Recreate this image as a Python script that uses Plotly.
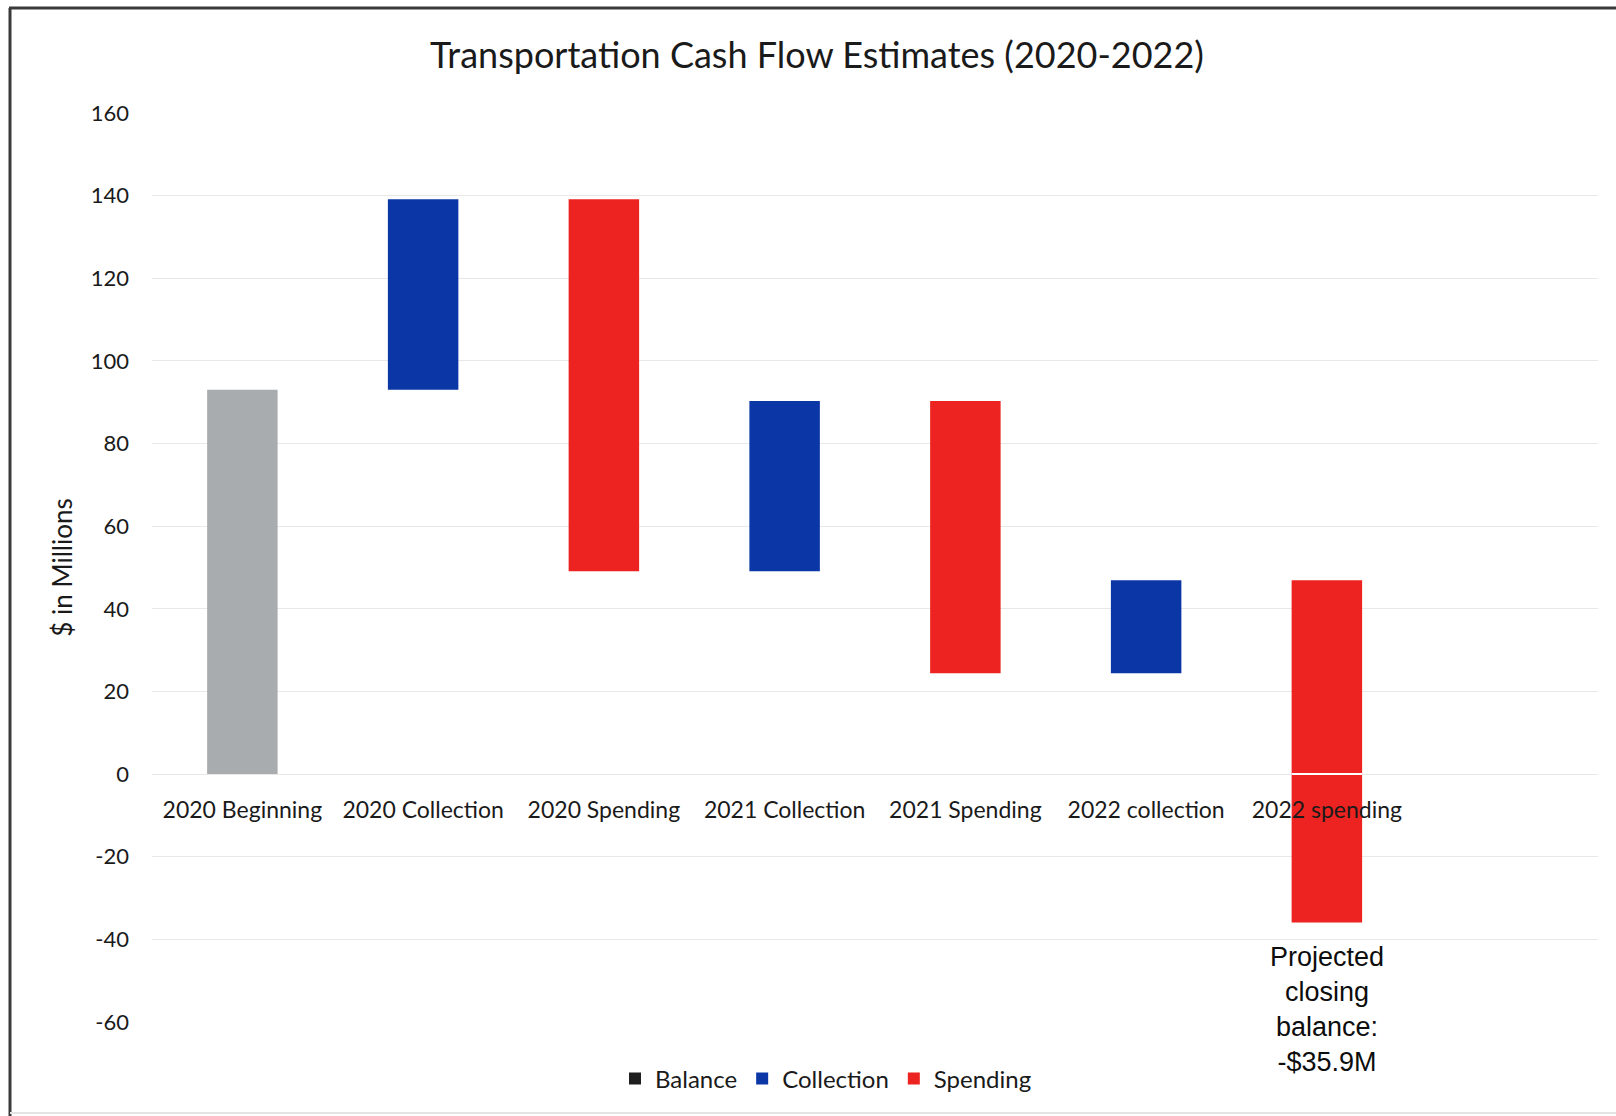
import plotly.graph_objects as go

# ---- data ($ millions) ----
categories = ["2020 Beginning", "2020 Collection", "2020 Spending",
              "2021 Collection", "2021 Spending", "2022 collection", "2022 spending"]
opening_balance = 93.0
collections = [46.1, 41.2, 22.5]
spending = [90.0, 65.9, 82.8]
series_names = ["Balance", "Collection", "Spending"]
y_ticks = [-60, -40, -20, 0, 20, 40, 60, 80, 100, 120, 140, 160]
y_tick_labels = ["-60", "-40", "-20", "0", "20", "40", "60", "80",
                 "100", "120", "140", "160"]

# running balance through the year-by-year flows
flows = [collections[0], -spending[0], collections[1], -spending[1],
         collections[2], -spending[2]]
levels = [opening_balance]
for f in flows:
    levels.append(levels[-1] + f)
closing_balance = levels[-1]

# ---- styling ----
W, H = 1616, 1116
M_L, M_R, M_T, M_B = 152, 18, 113, 94
Y_MIN, Y_MAX = -60, 160
BAR_W = 0.39
GRAY, BLUE, RED = "#a9acae", "#0b36a6", "#ec2320"
FONT = "Lato"
TEXT = "#1a1a1a"

fig = go.Figure()

# opening balance column
fig.add_trace(go.Bar(
    x=[categories[0]], y=[opening_balance], base=[0],
    marker=dict(color=GRAY, line=dict(width=0)), width=BAR_W,
    name=series_names[0], showlegend=False, hoverinfo="skip"))

# floating columns for each flow
col_x, col_y, col_b = [], [], []
sp_x, sp_y, sp_b = [], [], []
for i, f in enumerate(flows):
    cat = categories[i + 1]
    if f >= 0:
        col_x.append(cat); col_y.append(f); col_b.append(levels[i])
    else:
        sp_x.append(cat); sp_y.append(f); sp_b.append(levels[i])

# legend swatches
fig.add_trace(go.Bar(x=[None], y=[None], name=series_names[0],
                     marker=dict(color="#1e1e1e", line=dict(width=0))))
fig.add_trace(go.Bar(x=col_x, y=col_y, base=col_b, width=BAR_W,
                     marker=dict(color=BLUE, line=dict(width=0)),
                     name=series_names[1]))
fig.add_trace(go.Bar(x=sp_x, y=sp_y, base=sp_b, width=BAR_W,
                     marker=dict(color=RED, line=dict(width=0)),
                     name=series_names[2]))

# white seam where the last column crosses zero
last_idx = len(categories) - 1
if levels[-2] > 0 > closing_balance:
    fig.add_shape(type="line", xref="x", yref="y",
                  x0=last_idx - BAR_W / 2, x1=last_idx + BAR_W / 2, y0=0, y1=0,
                  line=dict(color="white", width=2), layer="above")

# closing balance note under the last column
fig.add_annotation(
    x=categories[-1], y=closing_balance, xref="x", yref="y",
    text=f"Projected<br>closing<br>balance:<br>-${abs(closing_balance):.1f}M",
    showarrow=False, yanchor="top", yshift=-18,
    font=dict(family="Liberation Sans, Arial", size=27, color="#0d0d0d"),
    align="center")

# frame lines around the chart area
def px_x(p):
    return (p - M_L) / (W - M_L - M_R)

def px_y(p):
    return 1 - (p - M_T) / (H - M_T - M_B)

fig.add_shape(type="line", xref="paper", yref="paper",
              x0=px_x(9), x1=px_x(W), y0=px_y(8), y1=px_y(8),
              line=dict(color="#3a3a3a", width=3), layer="above")
fig.add_shape(type="line", xref="paper", yref="paper",
              x0=px_x(10), x1=px_x(10), y0=px_y(8), y1=px_y(H),
              line=dict(color="#3a3a3a", width=3), layer="above")
fig.add_shape(type="line", xref="paper", yref="paper",
              x0=px_x(10), x1=px_x(W), y0=px_y(1113), y1=px_y(1113),
              line=dict(color="#e4e4e4", width=2), layer="above")

fig.update_layout(
    width=W, height=H,
    margin=dict(l=M_L, r=M_R, t=M_T, b=M_B),
    paper_bgcolor="white", plot_bgcolor="white",
    barmode="overlay",
    font=dict(family=FONT, color=TEXT),
    title=dict(text="Transportation Cash Flow Estimates (2020-2022)",
               x=817 / W, xref="container", xanchor="center",
               y=1 - 55 / H, yanchor="middle",
               font=dict(family=FONT, size=36, color=TEXT)),
    xaxis=dict(
        type="category", categoryorder="array", categoryarray=categories,
        range=[-0.5, len(categories) + 0.5],
        anchor="free", position=(0 - Y_MIN) / (Y_MAX - Y_MIN),
        showline=False, showgrid=False, zeroline=False, ticks="",
        ticklabelstandoff=20,
        tickfont=dict(family=FONT, size=23, color=TEXT),
        layer="above traces"),
    yaxis=dict(
        range=[Y_MIN, Y_MAX], tickmode="array",
        tickvals=y_ticks, ticktext=y_tick_labels,
        showline=False, zeroline=False, ticks="",
        showgrid=True, gridcolor="#e8e8e8", gridwidth=1,
        ticklabelstandoff=22,
        tickfont=dict(family=FONT, size=22, color=TEXT),
        title=dict(text="$ in Millions", standoff=10,
                   font=dict(family=FONT, size=26, color=TEXT))),
    legend=dict(orientation="h", x=px_x(826), xanchor="center",
                y=px_y(1079), yanchor="middle",
                font=dict(family=FONT, size=24, color=TEXT),
                itemwidth=30, traceorder="normal", bgcolor="rgba(0,0,0,0)"),
    showlegend=True,
)

fig.write_html("out.html")
